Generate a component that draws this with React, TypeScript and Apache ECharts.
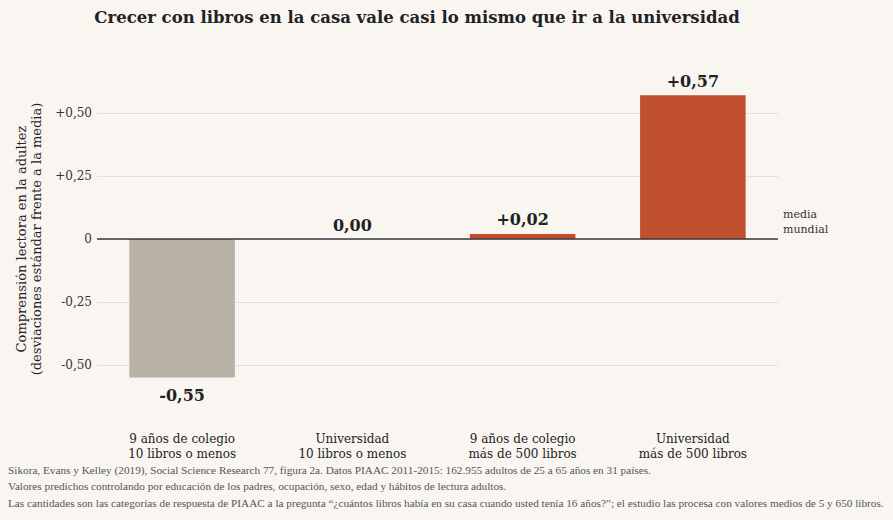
import * as echarts from 'echarts';
import { useEffect, useRef } from 'react';

const TITLE = 'Crecer con libros en la casa vale casi lo mismo que ir a la universidad';
const CATEGORIES = [
  '9 años de colegio\n10 libros o menos',
  'Universidad\n10 libros o menos',
  '9 años de colegio\nmás de 500 libros',
  'Universidad\nmás de 500 libros',
];
const VALUES = [-0.55, 0.0, 0.02, 0.57];
const VALUE_LABELS = ['-0,55', '0,00', '+0,02', '+0,57'];
const BAR_COLORS = ['#b8b1a5', '#c0502e', '#c0502e', '#c0502e'];
const Y_TICKS: Record<string, string> = {
  '-0.5': '-0,50',
  '-0.25': '-0,25',
  '0': '0',
  '0.25': '+0,25',
  '0.5': '+0,50',
};
const Y_NAME = 'Comprensión lectora en la adultez\n(desviaciones estándar frente a la media)';
const ZERO_NOTE = 'media\nmundial';
const NOTES = [
  'Sikora, Evans y Kelley (2019), Social Science Research 77, figura 2a. Datos PIAAC 2011-2015: 162.955 adultos de 25 a 65 años en 31 países.',
  'Valores predichos controlando por educación de los padres, ocupación, sexo, edad y hábitos de lectura adultos.',
  'Las cantidades son las categorías de respuesta de PIAAC a la pregunta “¿cuántos libros había en su casa cuando usted tenía 16 años?”; el estudio las procesa con valores medios de 5 y 650 libros.',
];

const BG = '#f9f6f2';
const SERIF = "'DejaVu Serif', Georgia, serif";
const NOTE_FONT = "'Liberation Serif', serif";
const GRID_COLOR = '#e6dfd6';

export default function App() {
  const ref = useRef<HTMLDivElement | null>(null);

  useEffect(() => {
    document.body.style.margin = '0';
    if (!ref.current) return undefined;
    const chart = echarts.init(ref.current, undefined, { renderer: 'svg' });

    chart.setOption({
      animation: false,
      backgroundColor: BG,
      textStyle: { fontFamily: SERIF },
      grid: { left: 97, right: 115, top: 50, bottom: 92 },
      xAxis: {
        type: 'category',
        data: CATEGORIES,
        axisLine: { show: false, onZero: false },
        axisTick: { show: false },
        axisLabel: {
          margin: 3,
          fontSize: 12,
          lineHeight: 15,
          color: '#222',
          fontFamily: SERIF,
        },
      },
      yAxis: {
        type: 'value',
        min: -0.75,
        max: 0.75,
        interval: 0.25,
        name: Y_NAME,
        nameLocation: 'middle',
        nameGap: 51,
        nameTextStyle: { fontSize: 13, lineHeight: 15, color: '#222', fontFamily: SERIF },
        axisLine: { show: false },
        axisTick: { show: false },
        axisLabel: {
          margin: 5,
          fontSize: 12,
          color: '#333',
          fontFamily: SERIF,
          formatter: (v: number) => Y_TICKS[String(Math.round(v * 100) / 100)] ?? '',
        },
        splitLine: {
          lineStyle: {
            color: ['transparent', GRID_COLOR, GRID_COLOR, GRID_COLOR, GRID_COLOR, GRID_COLOR, 'transparent'],
            width: 1,
          },
        },
      },
      series: [
        {
          type: 'bar',
          barWidth: '62%',
          data: VALUES.map((v, i) => ({
            value: v,
            itemStyle: { color: BAR_COLORS[i] },
            label: {
              show: true,
              position: v < 0 ? 'bottom' : 'top',
              distance: v < 0 ? 10 : 6,
              formatter: VALUE_LABELS[i],
              fontSize: 16,
              fontWeight: 'bold',
              color: '#222',
              fontFamily: SERIF,
            },
          })),
          markLine: {
            silent: true,
            symbol: 'none',
            label: { show: false },
            lineStyle: { color: '#3a3a3a', width: 1.5, type: 'solid' },
            data: [{ yAxis: 0 }],
          },
        },
      ],
      graphic: [
        {
          type: 'text',
          x: 417,
          y: 9,
          style: {
            text: TITLE,
            fill: '#222',
            font: `bold 16.5px ${SERIF}`,
            textAlign: 'center',
          },
        },
        {
          type: 'text',
          x: 783,
          y: 207,
          style: {
            text: ZERO_NOTE,
            fill: '#333',
            font: `11px ${SERIF}`,
            lineHeight: 15,
          },
        },
        ...NOTES.map((t, i) => ({
          type: 'text',
          x: 8,
          y: 464 + i * 16.5,
          style: {
            text: t,
            fill: '#555',
            font: `11.25px ${NOTE_FONT}`,
          },
        })),
      ],
    });

    return () => {
      chart.dispose();
    };
  }, []);

  return <div ref={ref} style={{ width: 893, height: 520, background: BG }} />;
}
